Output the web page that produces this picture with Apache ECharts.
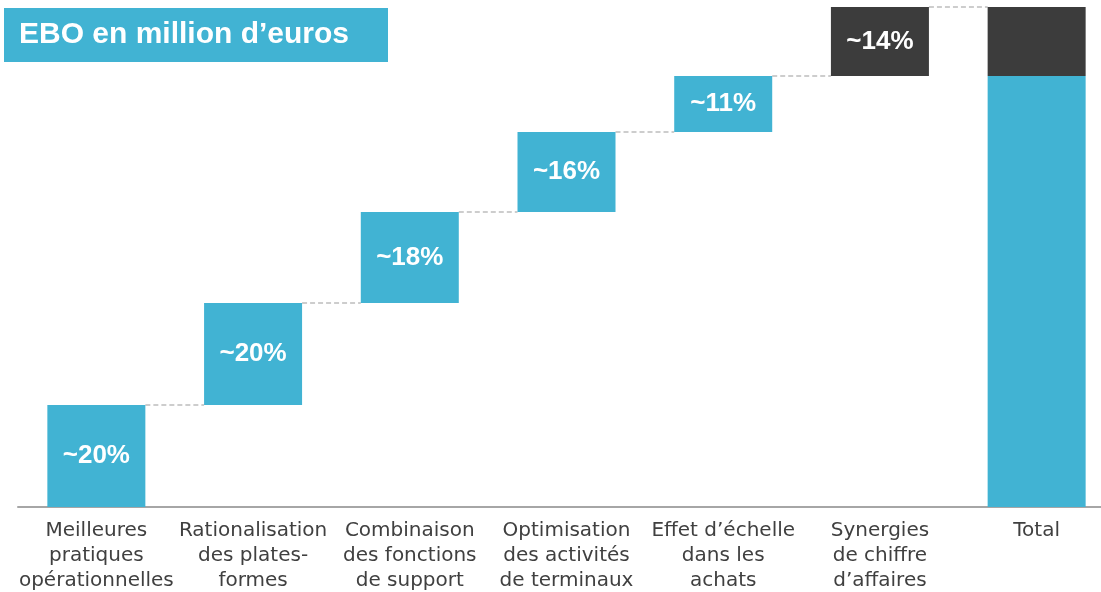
<!DOCTYPE html>
<html>
<head>
<meta charset="utf-8">
<script src="https://cdn.jsdelivr.net/npm/echarts@6/dist/echarts.min.js"></script>
<style>
  html, body { margin: 0; padding: 0; background: #fff; }
  #chart { width: 1101px; height: 592px; }
</style>
</head>
<body>
<div id="chart"></div>
<script>
var categories = [
	'Meilleures\npratiques\nopérationnelles',
	'Rationalisation\ndes plates-\nformes',
	'Combinaison\ndes fonctions\nde support',
	'Optimisation\ndes activités\nde terminaux',
	'Effet d’échelle\ndans les\nachats',
	'Synergies\nde chiffre\nd’affaires',
	'Total'
];
// share of total
var steps = [20.4, 20.4, 18.2, 16.0, 11.2, 13.8];
var stepLabels = ['~20%', '~20%', '~18%', '~16%', '~11%', '~14%'];
// last step (revenue synergies) is drawn dark, the rest blue
var darkIndex = 5;

var BLUE = '#41B3D3';
var DARK = '#3C3C3C';
var BAR_W = 98;

var base = [], blue = [], dark = [], links = [];
var cum = 0;
for (var i = 0; i < steps.length; i++) {
	base.push(cum);
	if (i === darkIndex) {
		blue.push('-');
		dark.push(steps[i]);
	} else {
		blue.push(steps[i]);
		dark.push('-');
	}
	cum += steps[i];
	links.push([i, cum]);
}
var total = cum;
base.push(0);
blue.push(total - steps[darkIndex]);
dark.push(steps[darkIndex]);

var myChart = echarts.init(document.getElementById('chart'));

var labelStyle = {
	show: true,
	position: 'inside',
	color: '#fff',
	fontFamily: '"Liberation Sans", Arial, sans-serif',
	fontWeight: 'bold',
	fontSize: 26,
	formatter: function(p) {
		if (p.dataIndex >= stepLabels.length) return '';
		return stepLabels[p.dataIndex];
	}
};

var option = {
	animation: false,
	grid: {
		left: 18,
		top: 7,
		width: 1097,
		height: 500,
		outerBoundsMode: 'none'
	},
	graphic: [{
		type: 'rect',
		shape: { x: 4, y: 8, width: 384, height: 54 },
		style: { fill: BLUE }
	}, {
		type: 'text',
		x: 19,
		y: 35,
		style: {
			text: 'EBO en million d’euros',
			fill: '#fff',
			fontFamily: '"Liberation Sans", Arial, sans-serif',
			fontWeight: 'bold',
			fontSize: 30,
			verticalAlign: 'middle'
		}
	}],
	xAxis: {
		type: 'category',
		data: categories,
		axisTick: { show: false },
		axisLine: { lineStyle: { color: '#A6A6A6', width: 2 } },
		axisLabel: {
			interval: 0,
			margin: 11,
			color: '#404040',
			fontFamily: '"DejaVu Sans", Verdana, sans-serif',
			fontSize: 20,
			lineHeight: 25
		}
	},
	yAxis: {
		type: 'value',
		min: 0,
		max: 100,
		show: false,
		splitLine: { show: false }
	},
	series: [{
		name: 'base',
		type: 'bar',
		stack: 'w',
		barWidth: BAR_W,
		itemStyle: { color: 'transparent' },
		data: base
	}, {
		name: 'blue',
		type: 'bar',
		stack: 'w',
		barWidth: BAR_W,
		itemStyle: { color: BLUE },
		label: labelStyle,
		data: blue
	}, {
		name: 'dark',
		type: 'bar',
		stack: 'w',
		barWidth: BAR_W,
		itemStyle: { color: DARK },
		label: labelStyle,
		data: dark
	}, {
		name: 'links',
		type: 'custom',
		silent: true,
		renderItem: function(params, api) {
			var pt = api.coord([api.value(0), api.value(1)]);
			var step = api.size([1, 0])[0];
			return {
				type: 'line',
				shape: {
					x1: pt[0] + BAR_W / 2,
					y1: pt[1],
					x2: pt[0] + step - BAR_W / 2,
					y2: pt[1]
				},
				style: { stroke: '#BDBDBD', lineWidth: 1.5, lineDash: [5, 3] }
			};
		},
		data: links
	}]
};
myChart.setOption(option);
</script>
</body>
</html>
